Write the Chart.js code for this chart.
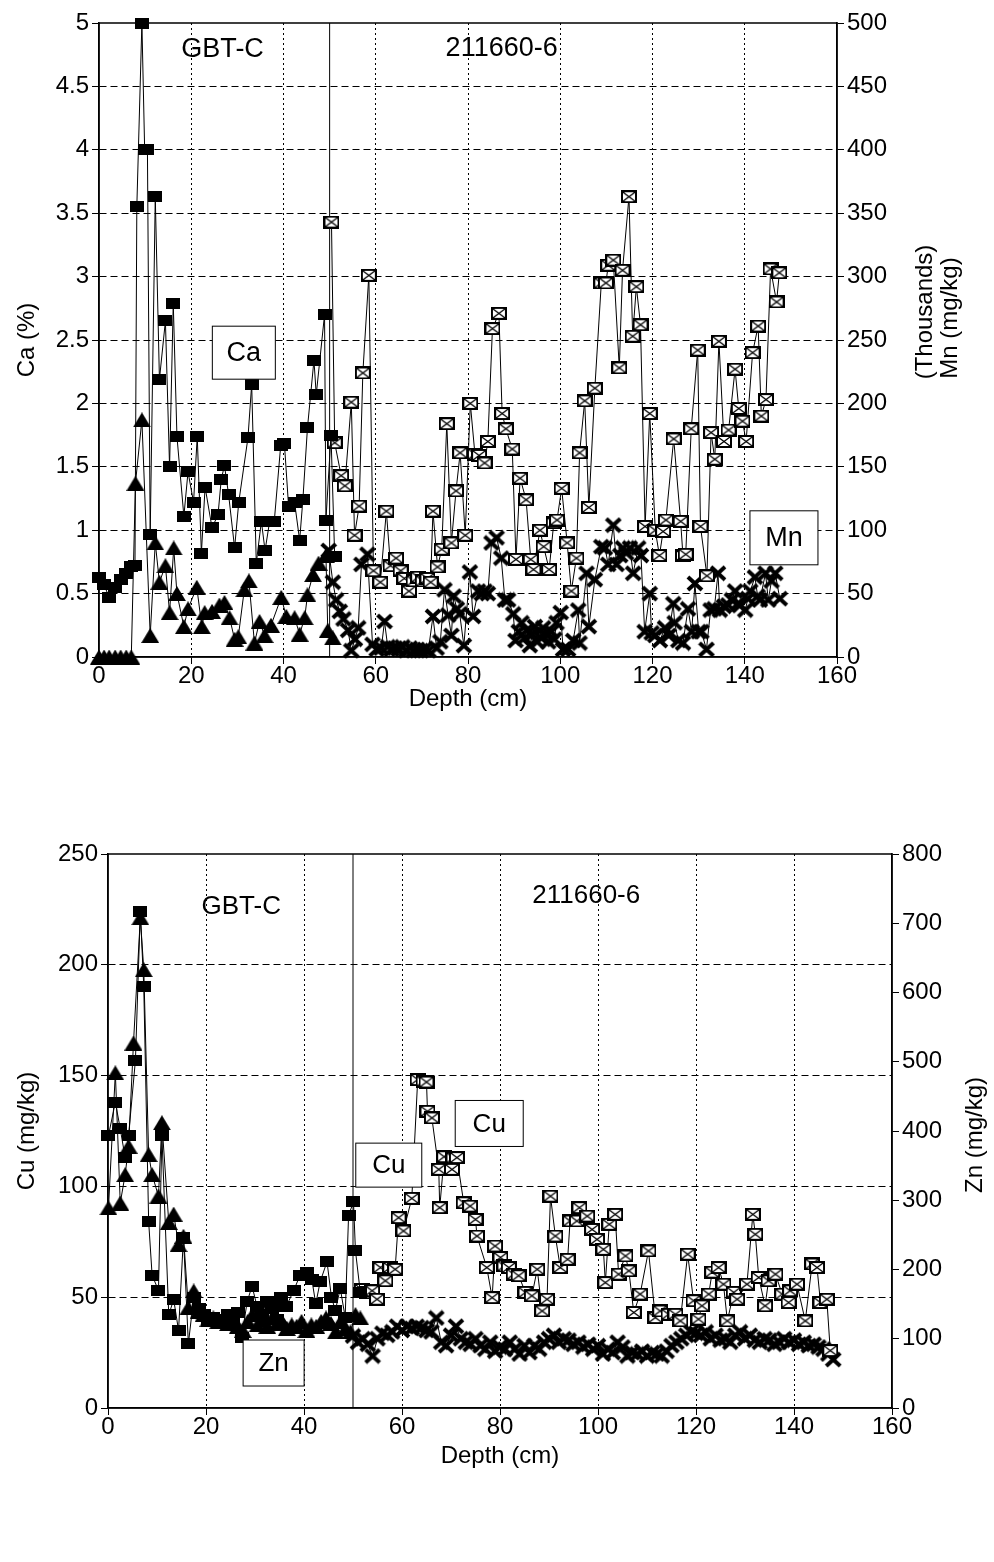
<!DOCTYPE html>
<html>
<head>
<meta charset="utf-8">
<title>Ca, Mn, Cu, Zn profiles</title>
<script src="https://cdn.jsdelivr.net/npm/chart.js@4.4.0/dist/chart.umd.min.js"></script>
<style>
  body { margin: 0; background: #fff; }
  #page { position: relative; width: 994px; height: 1562px; }
  canvas { position: absolute; left: 0; }
</style>
</head>
<body>
<div id="page">
  <canvas id="caMn" width="994" height="730" style="top:0"></canvas>
  <canvas id="cuZn" width="994" height="700" style="top:790px"></canvas>
</div>
<script>
// ---- core GBT-C, top panel ----
var caDepthA = [0, 1.1, 2.2, 3.5, 4.7, 5.9, 7.0, 7.8, 8.2, 9.3, 9.9, 10.5, 11.1, 12.2, 13.1, 14.4, 15.3, 16.1, 16.9, 18.4, 19.3, 20.5, 21.3, 22.2, 23.0, 24.5, 25.8, 26.5, 27.2, 28.1, 29.4, 30.3, 32.3, 33.1, 34.1, 35.2, 36.0, 37.0, 38.0, 39.4, 40.2, 41.1, 42.4, 43.5, 44.2, 45.2, 46.6, 47.1, 48.9, 49.2, 50.3, 51.1];
var caA = [0.63, 0.57, 0.47, 0.55, 0.61, 0.66, 0.71, 0.72, 3.55, 5.0, 4.0, 4.0, 0.97, 3.63, 2.19, 2.65, 1.5, 2.79, 1.74, 1.11, 1.46, 1.22, 1.74, 0.82, 1.34, 1.02, 1.12, 1.40, 1.51, 1.28, 0.86, 1.22, 1.73, 2.15, 0.74, 1.07, 0.84, 1.07, 1.07, 1.67, 1.68, 1.19, 1.22, 0.92, 1.24, 1.81, 2.34, 2.07, 2.70, 1.08, 1.75, 0.79];
var mnDepthA = [0, 1.1, 2.2, 3.5, 4.7, 5.9, 7.0, 7.9, 9.3, 11.1, 12.2, 13.1, 14.4, 15.3, 16.2, 16.9, 18.4, 19.3, 21.2, 22.3, 22.9, 24.5, 26.1, 27.2, 28.3, 29.4, 30.2, 31.5, 32.5, 33.7, 34.8, 35.9, 37.3, 39.5, 40.6, 42.4, 43.5, 44.6, 45.2, 46.4, 47.6, 49.2, 49.6, 50.7];
var mnA = [0, 0, 0, 0, 0, 0, 0, 137, 187, 17, 90, 59, 72, 35, 86, 50, 24, 38, 55, 24, 35, 36, 41, 43, 31, 14, 16, 53, 60, 11, 28, 17, 25, 47, 32, 31, 18, 31, 49, 65, 74, 80, 21, 15];

// ---- core 211660-6, top panel ----
var caDepthB = [50.4, 51.1, 52.5, 53.3, 54.7, 55.4, 56.4, 57.2, 58.5, 59.5, 61.0, 62.3, 63.2, 64.4, 65.4, 66.2, 67.2, 68.2, 69.2, 70.2, 71.2, 71.9, 72.4, 73.4, 74.3, 75.4, 76.4, 77.4, 78.3, 79.4, 80.5, 81.5, 82.4, 83.6, 84.3, 85.3, 86.7, 87.4, 88.2, 89.6, 90.4, 91.3, 92.6, 93.6, 94.2, 95.6, 96.4, 97.6, 98.6, 99.3, 100.3, 101.5, 102.4, 103.5, 104.2, 105.3, 106.2, 107.5, 108.9, 109.9, 110.4, 111.5, 112.8, 113.5, 114.9, 115.7, 116.5, 117.4, 118.4, 119.4, 120.6, 121.5, 122.3, 122.9, 124.6, 126.1, 126.6, 127.2, 128.4, 129.8, 130.4, 131.8, 132.7, 133.5, 134.4, 135.5, 136.5, 137.9, 138.7, 139.5, 140.3, 141.7, 142.9, 143.6, 144.6, 145.6, 146.9, 147.5];
var caB = [3.43, 1.69, 1.43, 1.35, 2.01, 0.96, 1.19, 2.24, 3.01, 0.68, 0.59, 1.15, 0.72, 0.78, 0.68, 0.62, 0.52, 0.60, 0.63, 0.60, 0.62, 0.59, 1.15, 0.71, 0.85, 1.84, 0.90, 1.31, 1.61, 0.96, 2.00, 1.60, 1.59, 1.53, 1.70, 2.59, 2.71, 1.92, 1.80, 1.64, 0.77, 1.41, 1.24, 0.77, 0.69, 1.00, 0.87, 0.69, 1.06, 1.08, 1.33, 0.90, 0.52, 0.78, 1.61, 2.02, 1.18, 2.12, 2.95, 2.95, 3.09, 3.13, 2.28, 3.05, 3.63, 2.53, 2.92, 2.62, 1.03, 1.92, 1.00, 0.80, 0.99, 1.08, 1.72, 1.07, 0.80, 0.81, 1.80, 2.42, 1.03, 0.64, 1.77, 1.56, 2.49, 1.70, 1.79, 2.27, 1.96, 1.86, 1.70, 2.40, 2.61, 1.90, 2.03, 3.06, 2.80, 3.03];
var mnDepthB = [49.8, 50.7, 51.4, 52.2, 53.0, 54.0, 54.7, 55.5, 56.2, 56.9, 58.2, 59.3, 60.2, 61.2, 61.9, 62.6, 63.4, 64.2, 65.0, 65.8, 66.6, 67.4, 68.2, 69.0, 69.8, 70.6, 71.4, 72.4, 73.2, 74.0, 74.9, 75.7, 76.4, 76.9, 77.6, 78.2, 79.1, 80.4, 81.1, 82.2, 83.0, 83.6, 84.3, 85.1, 86.2, 87.2, 88.0, 88.7, 89.8, 90.3, 91.0, 91.6, 92.2, 92.7, 93.4, 94.0, 94.5, 95.0, 95.6, 96.3, 96.8, 97.4, 98.1, 98.7, 99.2, 100.1, 100.6, 101.7, 102.8, 103.9, 104.2, 105.7, 106.2, 107.5, 108.9, 109.7, 110.4, 111.5, 112.2, 113.0, 113.6, 114.3, 115.1, 115.8, 116.9, 117.5, 118.3, 119.4, 119.8, 120.6, 121.6, 122.7, 123.5, 124.5, 124.8, 125.6, 126.6, 127.7, 128.5, 129.2, 130.0, 130.6, 131.7, 132.6, 133.4, 134.2, 134.6, 135.5, 136.4, 137.2, 137.9, 138.5, 139.0, 140.1, 140.7, 141.2, 142.2, 142.8, 143.3, 144.5, 145.1, 145.8, 146.6, 147.6];
var mnB = [84, 59, 45, 36, 30, 21, 5, 14, 23, 73, 81, 10, 6, 7, 28, 8, 6, 7, 6, 8, 5, 7, 5, 6, 5, 6, 5, 32, 7, 12, 53, 33, 17, 48, 38, 34, 9, 67, 32, 52, 50, 52, 50, 90, 94, 78, 45, 45, 34, 13, 20, 27, 15, 21, 9, 18, 24, 12, 16, 23, 18, 12, 20, 14, 27, 35, 6, 6, 13, 37, 11, 66, 24, 61, 87, 86, 73, 104, 73, 80, 86, 82, 86, 66, 86, 80, 20, 50, 19, 17, 13, 23, 17, 42, 27, 13, 11, 38, 20, 58, 20, 20, 6, 37, 38, 66, 37, 40, 41, 45, 52, 42, 41, 37, 46, 52, 63, 48, 45, 66, 45, 60, 66, 46];

// ---- core GBT-C, bottom panel ----
var cuDepthA = [0.1, 1.5, 2.5, 3.5, 4.2, 5.6, 6.6, 7.3, 8.3, 9.0, 10.3, 11.0, 12.4, 13.4, 14.4, 15.4, 16.4, 17.5, 18.5, 19.5, 20.5, 21.5, 22.5, 23.5, 24.5, 25.5, 26.5, 27.3, 28.4, 29.4, 30.4, 31.4, 32.4, 33.4, 34.4, 35.4, 36.4, 37.9, 39.2, 40.6, 41.6, 42.4, 43.3, 44.7, 45.6, 46.4, 47.4, 48.4, 49.1, 50.1, 50.5, 51.5];
var cuA = [123, 138, 126, 113, 123, 157, 224, 190, 84, 60, 53, 123, 42, 49, 35, 77, 29, 50, 45, 42, 40, 41, 40, 38, 42, 40, 43, 32, 48, 55, 46, 42, 48, 45, 40, 50, 46, 53, 60, 61, 58, 47, 57, 66, 50, 44, 54, 41, 87, 93, 71, 52];
var znDepthA = [0.1, 1.5, 2.5, 3.5, 4.2, 5.2, 6.6, 7.3, 8.3, 9.0, 10.3, 11.0, 12.4, 13.4, 14.4, 15.4, 16.4, 17.5, 18.5, 19.5, 20.5, 21.5, 22.5, 23.5, 24.5, 25.5, 26.5, 27.5, 28.5, 29.5, 30.5, 31.5, 32.5, 33.5, 34.5, 35.5, 36.5, 37.5, 38.5, 39.5, 40.5, 41.5, 42.5, 43.5, 44.5, 45.5, 46.5, 47.5, 48.5, 49.5, 50.5, 51.5];
var znA = [289, 484, 296, 337, 378, 527, 708, 633, 366, 337, 306, 412, 268, 280, 236, 248, 145, 169, 140, 135, 128, 130, 125, 128, 122, 125, 118, 112, 125, 135, 120, 128, 118, 130, 122, 125, 115, 120, 118, 125, 112, 120, 118, 125, 130, 122, 110, 125, 115, 110, 135, 130];

// ---- core 211660-6, bottom panel ----
var cuDepthB = [51.8, 52.8, 53.9, 54.9, 55.6, 56.6, 57.6, 58.6, 59.3, 60.3, 62.0, 63.2, 64.4, 65.0, 65.2, 66.1, 67.5, 67.7, 68.6, 70.2, 70.5, 71.2, 72.6, 73.9, 75.0, 75.3, 77.3, 78.4, 79.0, 80.1, 80.9, 81.8, 82.8, 83.8, 85.2, 86.5, 87.6, 88.6, 89.6, 90.3, 91.3, 92.3, 93.8, 94.3, 95.7, 96.2, 97.8, 98.8, 99.8, 101.1, 101.5, 102.3, 103.5, 104.2, 105.6, 106.3, 107.3, 108.6, 110.3, 111.7, 112.7, 114.4, 115.8, 116.8, 118.3, 119.5, 120.5, 121.2, 122.6, 123.3, 124.6, 125.6, 126.4, 127.7, 128.4, 130.4, 131.6, 132.1, 132.8, 134.1, 134.8, 136.2, 137.6, 138.9, 139.2, 140.6, 142.3, 143.7, 144.7, 145.4, 146.7, 147.4];
var cuB = [53.5, 52, 52.9, 49.1, 63.4, 57.4, 63.4, 62.6, 85.9, 79.9, 94.6, 148.2, 147.5, 147.1, 133.9, 130.9, 107.7, 90.4, 113.4, 107.7, 112.9, 113, 92.6, 91.1, 85.1, 77.6, 63.4, 49.8, 73.1, 67.9, 64.1, 63.4, 60.4, 59.7, 52.2, 50.6, 62.6, 43.8, 49.1, 95.6, 77.6, 63.4, 67.1, 84.4, 84.4, 90.4, 86.6, 80.6, 76.1, 71.6, 56.6, 82.9, 87.4, 60.4, 68.6, 61.9, 43.1, 51.4, 70.9, 40.8, 43.8, 42.3, 42.3, 39.3, 69.4, 48.4, 40.1, 46.1, 51.4, 61.3, 63.4, 55.9, 39.3, 52.2, 49.1, 55.9, 87.4, 78.4, 58.9, 46.1, 57.4, 60.4, 51.4, 47.6, 52.9, 55.9, 39.3, 65, 63.4, 47.6, 49.1, 25.9];
var znDepthB = [50, 51, 52, 53, 54, 55, 56, 57, 58, 59, 60, 61, 62, 63, 64, 65, 66, 67, 68, 69, 70, 71, 72, 73, 74, 75, 76, 77, 78, 79, 80, 81, 82, 83, 84, 85, 86, 87, 88, 89, 90, 91, 92, 93, 94, 95, 96, 97, 98, 99, 100, 101, 102, 103, 104, 105, 106, 107, 108, 109, 110, 111, 112, 113, 114, 115, 116, 117, 118, 119, 120, 121, 122, 123, 124, 125, 126, 127, 128, 129, 130, 131, 132, 133, 134, 135, 136, 137, 138, 139, 140, 141, 142, 143, 144, 145, 146, 147, 148];
var znB = [104, 95, 100, 92, 75, 100, 108, 105, 110, 118, 112, 118, 115, 118, 116, 112, 110, 130, 95, 90, 105, 118, 100, 95, 92, 100, 90, 85, 95, 82, 88, 85, 95, 85, 78, 90, 80, 90, 85, 95, 100, 105, 95, 100, 98, 92, 95, 88, 92, 85, 90, 78, 85, 80, 95, 88, 75, 80, 78, 82, 75, 80, 78, 75, 82, 90, 95, 100, 105, 110, 108, 105, 110, 100, 105, 98, 100, 95, 105, 110, 100, 105, 98, 95, 100, 98, 92, 95, 100, 95, 98, 92, 95, 90, 92, 88, 85, 78, 70];

// axis ranges and tick steps
var depthTicks = [0, 160, 20];
var caTicks = [0, 5, 0.5];
var mnTicks = [0, 500, 50];
var cuTicks = [0, 250, 50];
var znTicks = [0, 800, 100];

var FONT = '"Liberation Sans", Arial, Helvetica, sans-serif';

// little canvases used as point styles
function marker(w, h, paint) {
    var c = document.createElement('canvas');
    c.width = w;
    c.height = h;
    paint(c.getContext('2d'), w, h);
    return c;
}

var squareMark = marker(14, 11, function (g, w, h) {
    g.fillStyle = '#000';
    g.fillRect(0, 0, w, h);
});

var triangleMark = marker(18, 15, function (g, w, h) {
    g.fillStyle = '#000';
    g.beginPath();
    g.moveTo(w / 2, 0);
    g.lineTo(w, h);
    g.lineTo(0, h);
    g.closePath();
    g.fill();
});

var boxXMark = marker(16, 13, function (g, w, h) {
    g.fillStyle = '#fff';
    g.fillRect(0, 0, w, h);
    g.strokeStyle = '#000';
    g.lineWidth = 2;
    g.strokeRect(1, 1, w - 2, h - 2);
    g.lineWidth = 1.3;
    g.beginPath();
    g.moveTo(2, 2); g.lineTo(w - 2, h - 2);
    g.moveTo(w - 2, 2); g.lineTo(2, h - 2);
    g.stroke();
});

var starMark = marker(18, 17, function (g, w, h) {
    g.strokeStyle = '#000';
    g.lineWidth = 4;
    g.lineCap = 'butt';
    g.beginPath();
    g.moveTo(2, 2); g.lineTo(w - 2, h - 2);
    g.moveTo(w - 2, 2); g.lineTo(2, h - 2);
    g.stroke();
});

function series(label, xs, ys, mark, axis) {
    return {
        label: label,
        data: xs.map(function (x, i) { return { x: x, y: ys[i] }; }),
        yAxisID: axis,
        borderColor: '#000',
        borderWidth: 1,
        pointStyle: mark,
        pointRadius: 7,
        pointHoverRadius: 7,
        fill: false,
        tension: 0,
        clip: false
    };
}

// frame, core boundary line, labels and boxed tags
var sketchNotes = {
    id: 'sketchNotes',
    beforeDatasetsDraw: function (chart, args, opts) {
        var ctx = chart.ctx, a = chart.chartArea;
        var xs = chart.scales.x.getPixelForValue(opts.split);
        ctx.save();
        ctx.strokeStyle = '#000';
        ctx.lineWidth = 1;
        ctx.beginPath();
        ctx.moveTo(xs, a.top);
        ctx.lineTo(xs, a.bottom);
        ctx.stroke();
        ctx.lineWidth = 1.5;
        ctx.strokeRect(a.left, a.top, a.right - a.left, a.bottom - a.top);
        ctx.restore();
    },
    afterDatasetsDraw: function (chart, args, opts) {
        var ctx = chart.ctx;
        var sx = chart.scales.x, sy = chart.scales.y;
        ctx.save();
        ctx.textAlign = 'center';
        ctx.textBaseline = 'middle';
        opts.texts.forEach(function (t) {
            ctx.fillStyle = '#000';
            ctx.font = t.size + 'px ' + FONT;
            ctx.fillText(t.text, sx.getPixelForValue(t.x), sy.getPixelForValue(t.y));
        });
        opts.boxes.forEach(function (b) {
            var cx = sx.getPixelForValue(b.x), cy = sy.getPixelForValue(b.y);
            ctx.fillStyle = '#fff';
            ctx.fillRect(cx - b.w / 2, cy - b.h / 2, b.w, b.h);
            ctx.strokeStyle = '#000';
            ctx.lineWidth = 1;
            ctx.strokeRect(cx - b.w / 2, cy - b.h / 2, b.w, b.h);
            ctx.fillStyle = '#000';
            ctx.font = b.size + 'px ' + FONT;
            ctx.fillText(b.text, cx, cy + 1);
        });
        // right-hand axis titles read bottom to top, like the left one
        opts.sideTitles.forEach(function (t) {
            ctx.save();
            ctx.translate(t.x, t.y);
            ctx.rotate(-Math.PI / 2);
            ctx.fillStyle = '#000';
            ctx.font = t.size + 'px ' + FONT;
            ctx.fillText(t.text, 0, 0);
            ctx.restore();
        });
        ctx.restore();
    }
};

function skipEnds(lo, hi) {
    return function (c) {
        var v = c.tick ? c.tick.value : null;
        return (v === lo || v === hi) ? 'rgba(0,0,0,0)' : '#000';
    };
}

function plainNumber(v) {
    return String(Math.round(v * 10) / 10);
}

function makeChart(id, cfg) {
    var tickFont = { family: FONT, size: 24 };
    var titleFont = { family: FONT, size: 24 };
    return new Chart(document.getElementById(id), {
        type: 'line',
        data: { datasets: cfg.datasets },
        options: {
            responsive: false,
            animation: false,
            events: [],
            layout: { padding: { top: cfg.padTop, left: 0, right: 0, bottom: 0 } },
            plugins: {
                legend: { display: false },
                tooltip: { enabled: false },
                sketchNotes: cfg.notes
            },
            scales: {
                x: {
                    type: 'linear',
                    min: depthTicks[0], max: depthTicks[1],
                    ticks: { stepSize: depthTicks[2], color: '#000', font: tickFont, padding: -2, maxRotation: 0, callback: plainNumber },
                    grid: { color: skipEnds(depthTicks[0], depthTicks[1]), tickColor: '#000', tickLength: 7, lineWidth: 1 },
                    border: { color: '#000', width: 1.5, dash: [2, 3] },
                    title: { display: true, text: 'Depth (cm)', color: '#000', font: titleFont, padding: { top: 0, bottom: cfg.xTitlePad } },
                    afterFit: function (s) { s.height = cfg.xHeight; }
                },
                y: {
                    position: 'left',
                    min: cfg.left[0], max: cfg.left[1],
                    ticks: { stepSize: cfg.left[2], color: '#000', font: tickFont, padding: 3, callback: plainNumber },
                    grid: { color: skipEnds(cfg.left[0], cfg.left[1]), tickColor: '#000', tickLength: 7, lineWidth: 1 },
                    border: { color: '#000', width: 1.5, dash: [7, 4] },
                    title: { display: true, text: cfg.leftTitle, color: '#000', font: titleFont, padding: { top: cfg.yTitlePad, bottom: 0 } },
                    afterFit: function (s) { s.width = cfg.leftWidth; }
                },
                y1: {
                    position: 'right',
                    min: cfg.right[0], max: cfg.right[1],
                    ticks: { stepSize: cfg.right[2], color: '#000', font: tickFont, padding: 3, callback: plainNumber },
                    grid: { drawOnChartArea: false, tickColor: '#000', tickLength: 7, lineWidth: 1 },
                    border: { color: '#000', width: 1.5 },
                    afterFit: function (s) { s.width = cfg.rightWidth; }
                }
            }
        },
        plugins: [sketchNotes]
    });
}

makeChart('caMn', {
    datasets: [
        series('Ca GBT-C', caDepthA, caA, squareMark, 'y'),
        series('Mn GBT-C', mnDepthA, mnA, triangleMark, 'y1'),
        series('Ca 211660-6', caDepthB, caB, boxXMark, 'y'),
        series('Mn 211660-6', mnDepthB, mnB, starMark, 'y1')
    ],
    left: caTicks, right: mnTicks,
    leftTitle: 'Ca (%)',
    padTop: 23, xHeight: 73, leftWidth: 99, rightWidth: 157,
    xTitlePad: 16, yTitlePad: 13,
    notes: {
        split: 50,
        texts: [
            { text: 'GBT-C', x: 26.8, y: 4.79, size: 27 },
            { text: '211660-6', x: 87.3, y: 4.8, size: 27 }
        ],
        boxes: [
            { text: 'Ca', x: 31.4, y: 2.40, w: 63, h: 53, size: 27 },
            { text: 'Mn', x: 148.5, y: 0.94, w: 68, h: 54, size: 27 }
        ],
        sideTitles: [
            { text: '(Thousands)', x: 925, y: 312, size: 24 },
            { text: 'Mn (mg/kg)', x: 950, y: 318, size: 24 }
        ]
    }
});

makeChart('cuZn', {
    datasets: [
        series('Cu GBT-C', cuDepthA, cuA, squareMark, 'y'),
        series('Zn GBT-C', znDepthA, znA, triangleMark, 'y1'),
        series('Cu 211660-6', cuDepthB, cuB, boxXMark, 'y'),
        series('Zn 211660-6', znDepthB, znB, starMark, 'y1')
    ],
    left: cuTicks, right: znTicks,
    leftTitle: 'Cu (mg/kg)',
    padTop: 64, xHeight: 82, leftWidth: 108, rightWidth: 102,
    xTitlePad: 19, yTitlePad: 13,
    notes: {
        split: 50,
        texts: [
            { text: 'GBT-C', x: 27.2, y: 226, size: 26 },
            { text: '211660-6', x: 97.6, y: 231, size: 26 }
        ],
        boxes: [
            { text: 'Cu', x: 57.3, y: 109.6, w: 66, h: 44, size: 26 },
            { text: 'Cu', x: 77.8, y: 128.4, w: 68, h: 46, size: 26 },
            { text: 'Zn', x: 33.8, y: 20.3, w: 61, h: 46, size: 26 }
        ],
        sideTitles: [
            { text: 'Zn (mg/kg)', x: 975, y: 345, size: 24 }
        ]
    }
});
</script>
</body>
</html>
